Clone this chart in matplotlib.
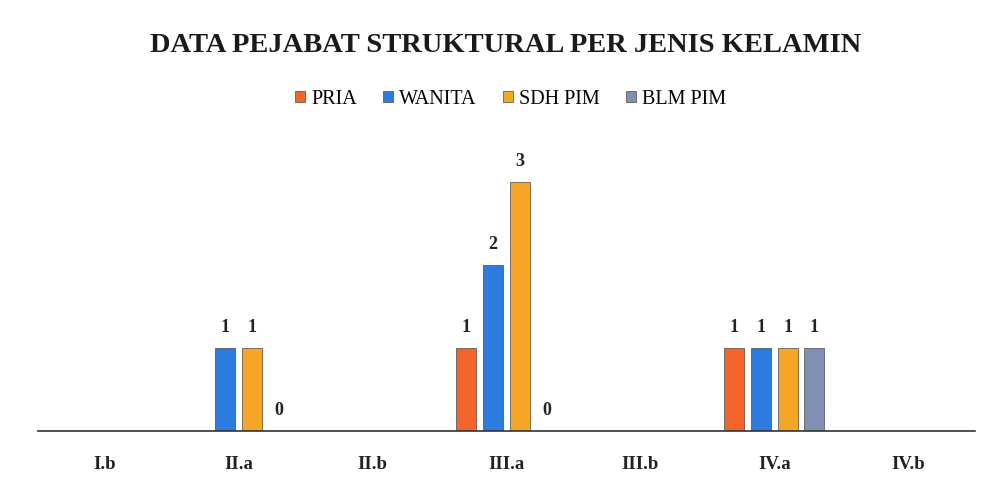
import numpy as np
import matplotlib.pyplot as plt

# data
kategori = ['I.b', 'II.a', 'II.b', 'III.a', 'III.b', 'IV.a', 'IV.b']
pria = [np.nan, np.nan, np.nan, 1, np.nan, 1, np.nan]
wanita = [np.nan, 1, np.nan, 2, np.nan, 1, np.nan]
sdh_pim = [np.nan, 1, np.nan, 3, np.nan, 1, np.nan]
blm_pim = [np.nan, 0, np.nan, 0, np.nan, 1, np.nan]

seri = [('PRIA', pria, '#F2662B'),
        ('WANITA', wanita, '#2E7BDF'),
        ('SDH PIM', sdh_pim, '#F6A626'),
        ('BLM PIM', blm_pim, '#7F90B2')]

plt.rcParams['font.family'] = ['Liberation Serif', 'DejaVu Serif']

fig = plt.figure(figsize=(9.92, 4.8), dpi=100)
ax = fig.add_axes([0.038, 0.102, 0.945, 0.623])

x = np.arange(len(kategori))
lebar = 0.15
jarak = 0.2
for i, (nama, nilai, warna) in enumerate(seri):
    pos = x + (i - 1.5) * jarak
    ax.bar(pos, nilai, width=lebar, color=warna, edgecolor='#4a4a4a',
           linewidth=0.5, label=nama)
    for p, v in zip(pos, nilai):
        if not np.isnan(v):
            ax.text(p, v + 0.14, '%d' % v, ha='center', va='bottom',
                    fontsize=13, fontweight='bold', color='#222222')

ax.set_xlim(-0.5, len(kategori) - 0.5)
ax.set_ylim(0, 3.6)
ax.set_xticks(x)
ax.set_xticklabels(kategori, fontsize=13.5, fontweight='bold', color='#222222')
ax.tick_params(axis='x', length=0, pad=18)
ax.set_yticks([])
for s in ['top', 'right', 'left']:
    ax.spines[s].set_visible(False)
ax.spines['bottom'].set_color('#333333')
ax.spines['bottom'].set_linewidth(1.2)

fig.text(0.51, 0.905, 'DATA PEJABAT STRUKTURAL PER JENIS KELAMIN', ha='center',
         va='center', fontsize=20.5, fontweight='bold', color='#1a1a1a')
fig.legend(loc='center', bbox_to_anchor=(0.515, 0.793), ncol=4, frameon=False,
           fontsize=14.5, handlelength=0.5, handleheight=0.5, handletextpad=0.3,
           columnspacing=1.3)

plt.savefig('out.png', dpi=100)
